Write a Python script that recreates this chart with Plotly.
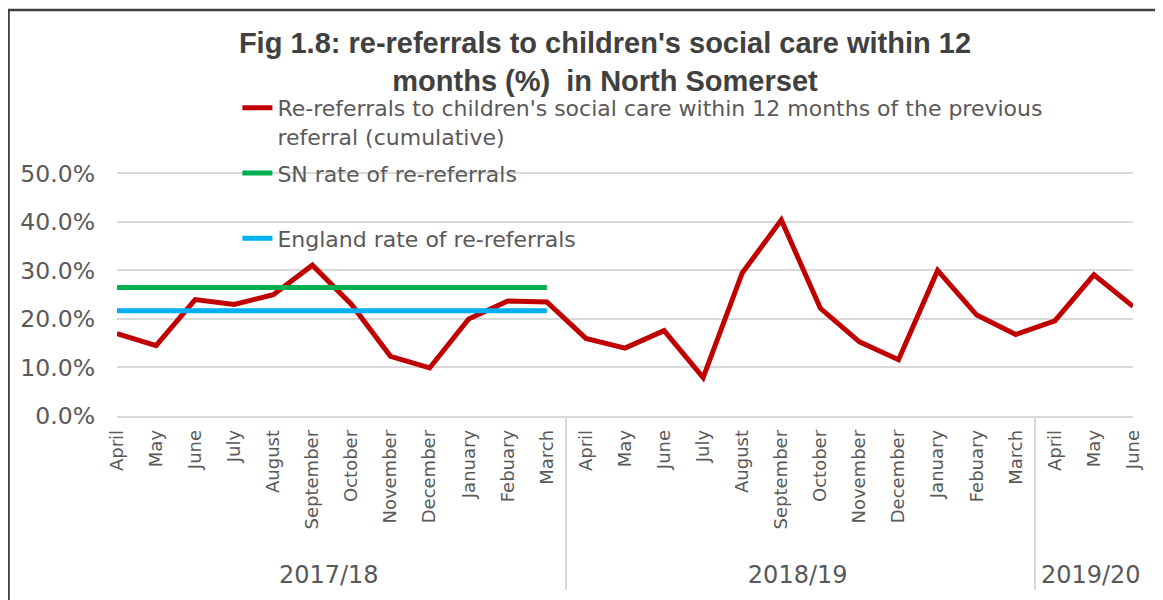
import plotly.graph_objects as go

months = ["April", "May", "June", "July", "August", "September", "October",
          "November", "December", "January", "Febuary", "March"]
years = ["2017/18", "2018/19", "2019/20"]
months_1920 = ["April", "May", "June"]

rereferrals_1718 = [17.0, 14.5, 24.0, 23.0, 25.0, 31.1, 23.0, 12.3, 9.9, 20.0, 23.7, 23.5]
rereferrals_1819 = [16.0, 14.0, 17.6, 7.9, 29.5, 40.4, 22.2, 15.3, 11.6, 30.0, 20.8, 16.8]
rereferrals_1920 = [19.6, 29.1, 22.6]

sn_rate = [26.5] * 12
england_rate = [21.7] * 12

# group labels get a blank first line so they sit lower, as in the reference
year_lbl = ["<br><span style='font-size:24px'>" + y + "</span>" for y in years]
x_year = [year_lbl[0]] * 12 + [year_lbl[1]] * 12 + [year_lbl[2]] * 3
x_month = months + months + months_1920
red_vals = rereferrals_1718 + rereferrals_1819 + rereferrals_1920
x_year_1718 = [year_lbl[0]] * 12

OFF = 8  # page body margin
W, H = 1163 - OFF, 600 - OFF
# target screen pixels
SL, SR_edge, ST, SB = 112, 1133, 172, 419
L = SL - OFF
T = ST - OFF
pw = SR_edge - SL
ph = SB - ST
R = W - L - pw
B = H - T - ph

def px_x(p):
    return (p - SL) / pw

def px_y(p):
    return (SB - p) / ph

TXT = "#595959"
FONT = "DejaVu Sans"

fig = go.Figure()
fig.add_trace(go.Scatter(
    x=[x_year, x_month], y=red_vals, mode="lines",
    name="Re-referrals to children's social care within 12 months of the previous<br>referral (cumulative)",
    line=dict(color="#C00000", width=5), legendgroup="a"))
fig.add_trace(go.Scatter(
    x=[x_year_1718, months], y=sn_rate, mode="lines",
    name="SN rate of re-referrals<br> ",
    line=dict(color="#00B050", width=5), legendgroup="b"))
fig.add_trace(go.Scatter(
    x=[x_year_1718, months], y=england_rate, mode="lines",
    name="England rate of re-referrals",
    line=dict(color="#00B0F0", width=5), legendgroup="c"))

fig.update_layout(
    width=W, height=H,
    margin=dict(l=L, r=R, t=T, b=B),
    paper_bgcolor="white", plot_bgcolor="white",
    title=dict(
        text="Fig 1.8: re-referrals to children's social care within 12<br>months (%)  in North Somerset",
        x=(605 - OFF) / W, xanchor="center", y=1 - (53 - OFF) / H, yanchor="middle",
        font=dict(family="Liberation Sans, Arial", size=29, color="#404040", weight="bold")),
    legend=dict(
        x=px_x(233), y=px_y(86), xanchor="left", yanchor="top",
        bgcolor="rgba(0,0,0,0)", font=dict(family=FONT, size=22, color=TXT),
        valign="top", tracegroupgap=5, traceorder="grouped"),
    showlegend=True,
    xaxis=dict(
        type="multicategory", tickangle=-90,
        tickfont=dict(family=FONT, size=18, color=TXT),
        showline=True, linecolor="#d9d9d9", linewidth=1.5,
        showgrid=False, ticks="",
        showdividers=True, dividercolor="#d9d9d9", dividerwidth=1.5,
        ticklabelstandoff=5),
    yaxis=dict(
        range=[0, 50.3], dtick=10, tick0=0, tickformat=".1f", ticksuffix="%",
        tickfont=dict(family=FONT, size=23.5, color=TXT),
        showgrid=True, gridcolor="#d9d9d9", gridwidth=1.5,
        zeroline=False, showline=False, ticks="", ticklabelstandoff=21),
    shapes=[dict(type="rect", xref="paper", yref="paper",
                 x0=px_x(3), x1=px_x(1190), y0=px_y(640), y1=px_y(8),
                 line=dict(color="#404040", width=2.5), fillcolor="rgba(0,0,0,0)",
                 layer="below")],
)

fig.write_html("out.html")
